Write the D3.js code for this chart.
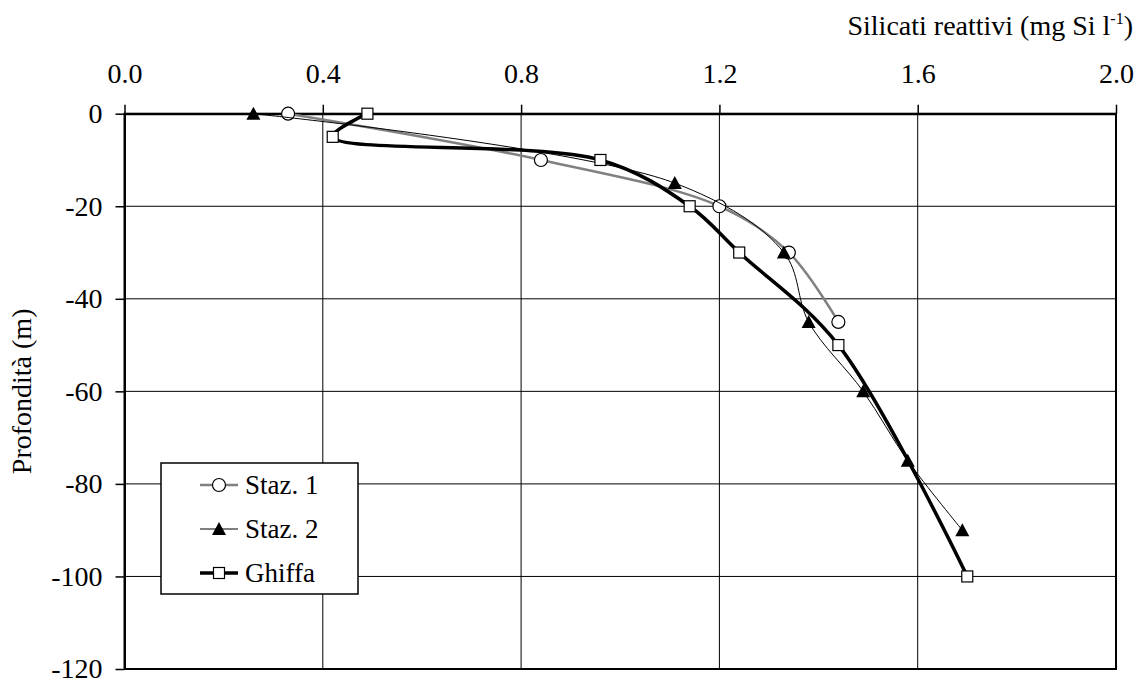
<!DOCTYPE html>
<html>
<head>
<meta charset="utf-8">
<script src="https://cdn.jsdelivr.net/npm/d3@7"></script>
<style>
  body { margin: 0; background: #fff; }
  svg text, svg tspan { font-family: "Liberation Serif" !important; }
</style>
</head>
<body>
<div id="chart"></div>
<script>
// silicati reattivi (mg Si/l) vs depth (m)
const staz1Depth = [0, -10, -20, -30, -45];
const staz1Si = [0.33, 0.84, 1.20, 1.34, 1.44];
const staz2Depth = [0, -15, -30, -45, -60, -75, -90];
const staz2Si = [0.26, 1.11, 1.33, 1.38, 1.49, 1.58, 1.69];
const ghiffaDepth = [0, -5, -10, -20, -30, -50, -100];
const ghiffaSi = [0.49, 0.42, 0.96, 1.14, 1.24, 1.44, 1.70];

const xTicks = [0, 0.4, 0.8, 1.2, 1.6, 2.0];
const yTicks = [0, -20, -40, -60, -80, -100, -120];
const seriesNames = ["Staz. 1", "Staz. 2", "Ghiffa"];

const width = 1142, height = 684;
const fs = 28;
const serif = "Liberation Serif";

const svg = d3.select("#chart").append("svg")
  .attr("width", width).attr("height", height)
  .attr("font-family", serif);

const x = d3.scaleLinear().domain([0, 2]).range([124.5, 1116]);
const y = d3.scaleLinear().domain([0, -120]).range([113.7, 669]);

function serifText(sel, size) {
  return sel.attr("font-family", serif).attr("font-size", size)
    .style("font-family", '"Liberation Serif"');
}

// gridlines
svg.append("g").selectAll("line").data(xTicks.slice(1, -1)).join("line")
  .attr("x1", d => x(d)).attr("x2", d => x(d))
  .attr("y1", y(0)).attr("y2", y(-120))
  .attr("stroke", "#000").attr("stroke-width", 1);
svg.append("g").selectAll("line").data(yTicks.slice(1, -1)).join("line")
  .attr("x1", x(0)).attr("x2", x(2))
  .attr("y1", d => y(d)).attr("y2", d => y(d))
  .attr("stroke", "#000").attr("stroke-width", 1);

// border
svg.append("rect")
  .attr("x", x(0)).attr("y", y(0))
  .attr("width", x(2) - x(0)).attr("height", y(-120) - y(0))
  .attr("fill", "none").attr("stroke", "#000").attr("stroke-width", 2);

// axes
const xAxis = svg.append("g").attr("transform", `translate(0,${y(0)})`)
  .call(d3.axisTop(x).tickValues(xTicks).tickFormat(d3.format(".1f")).tickSize(9).tickSizeOuter(0));
const yAxis = svg.append("g").attr("transform", `translate(${x(0)},0)`)
  .call(d3.axisLeft(y).tickValues(yTicks).tickFormat(d => String(d)).tickSize(9).tickSizeOuter(0));
[xAxis, yAxis].forEach(a => {
  a.attr("font-family", serif).attr("font-size", fs);
  a.select(".domain").attr("stroke-width", 2);
  a.selectAll(".tick line").attr("stroke-width", 1.5);
  serifText(a.selectAll(".tick text").attr("fill", "#000"), fs);
});
xAxis.selectAll(".tick text").attr("dy", 0).attr("y", -31);
yAxis.selectAll(".tick text").attr("x", -22);

// axis titles
const xt = serifText(svg.append("text").attr("x", 1133).attr("y", 35)
  .attr("text-anchor", "end"), fs);
xt.append("tspan").text("Silicati reattivi (mg Si l");
xt.append("tspan").attr("font-size", 16).attr("dy", -11).text("-1");
xt.append("tspan").attr("dy", 11).text(")");

serifText(svg.append("text")
  .attr("transform", `translate(31,${(y(0) + y(-120)) / 2}) rotate(-90)`)
  .attr("text-anchor", "middle"), fs)
  .text("Profondità (m)");

// series
const series = [
  { name: seriesNames[0], pts: staz1Si.map((v, i) => [v, staz1Depth[i]]), color: "#808080", w: 2.5, marker: "circle" },
  { name: seriesNames[1], pts: staz2Si.map((v, i) => [v, staz2Depth[i]]), color: "#000", w: 1, marker: "triangle" },
  { name: seriesNames[2], pts: ghiffaSi.map((v, i) => [v, ghiffaDepth[i]]), color: "#000", w: 3.5, marker: "square" }
];

const line = d3.line().x(d => x(d[0])).y(d => y(d[1])).curve(d3.curveCatmullRom.alpha(0.5));

function drawMarker(g, type, cx, cy) {
  if (type === "circle") {
    g.append("circle").attr("cx", cx).attr("cy", cy).attr("r", 6.5)
      .attr("fill", "#fff").attr("stroke", "#000").attr("stroke-width", 1.2);
  } else if (type === "triangle") {
    g.append("path").attr("d", `M${cx},${cy - 7}L${cx + 7},${cy + 6}L${cx - 7},${cy + 6}Z`)
      .attr("fill", "#000");
  } else {
    g.append("rect").attr("x", cx - 5.5).attr("y", cy - 5.5).attr("width", 11).attr("height", 11)
      .attr("fill", "#fff").attr("stroke", "#000").attr("stroke-width", 1.2);
  }
}

series.forEach(s => {
  const g = svg.append("g");
  g.append("path").attr("d", line(s.pts)).attr("fill", "none")
    .attr("stroke", s.color).attr("stroke-width", s.w).attr("stroke-linejoin", "round");
  s.pts.forEach(p => drawMarker(g, s.marker, x(p[0]), y(p[1])));
});

// legend
const leg = svg.append("g");
leg.append("rect").attr("x", 161).attr("y", 463).attr("width", 197).attr("height", 131)
  .attr("fill", "#fff").attr("stroke", "#000").attr("stroke-width", 1.5);
series.forEach((s, i) => {
  const cy = 485 + i * 44;
  leg.append("line").attr("x1", 200).attr("x2", 238).attr("y1", cy).attr("y2", cy)
    .attr("stroke", s.color).attr("stroke-width", s.w);
  drawMarker(leg, s.marker, 219, cy);
  serifText(leg.append("text").attr("x", 245).attr("y", cy + 9), 27).text(s.name);
});
</script>
</body>
</html>
